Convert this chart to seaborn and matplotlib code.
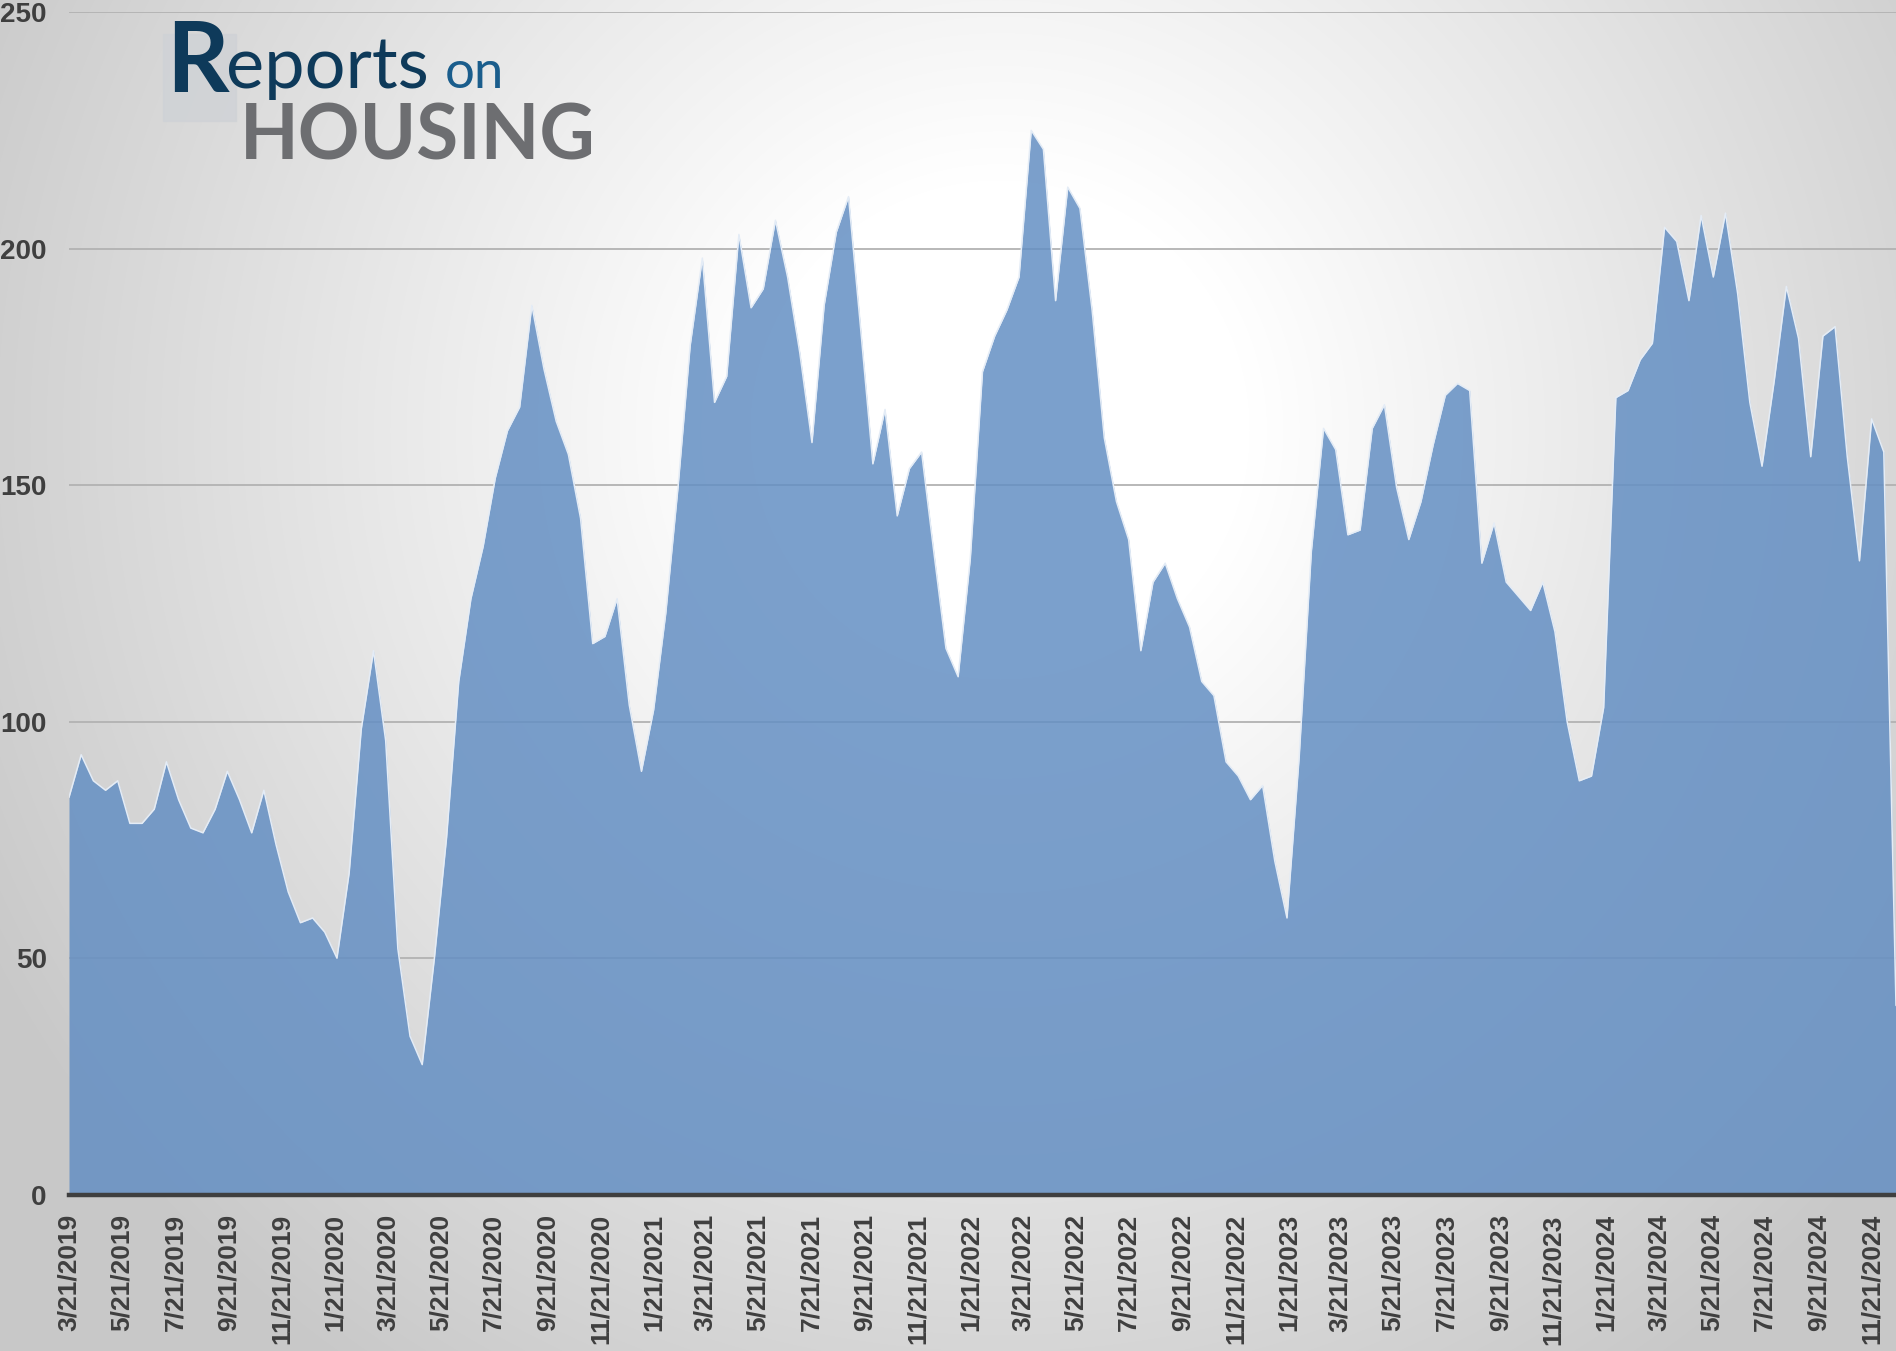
import numpy as np
import pandas as pd
import matplotlib
matplotlib.use("Agg")
import matplotlib.pyplot as plt
import seaborn as sns

# ---------------- data ----------------
start_date = "2019-03-21"
values = [
    84, 93, 87.5, 85.5, 87.5, 78.5, 78.5, 81.5, 91.5, 83.5,
    77.5, 76.5, 81.5, 89.5, 83.5, 76.5, 85.5, 74, 64, 57.5,
    58.5, 55.5, 50, 68, 98.5, 115, 96, 52, 33.5, 27.5,
    50, 75.5, 108.5, 126, 137, 151.5, 161.5, 166.5, 188, 174.5,
    163.5, 156.5, 143, 116.5, 118, 126, 103.5, 89.5, 102.5, 123,
    149.5, 179.5, 198, 167.5, 173, 203, 187.5, 191.5, 206, 194,
    178, 159, 188, 203.5, 211, 183, 154.5, 166, 143.5, 153.5,
    157, 136, 115.5, 109.5, 134.5, 174, 181.5, 187, 194, 225,
    221, 189, 213, 208.5, 187, 160, 146.5, 138.5, 115, 129.5,
    133.5, 126, 120, 108.5, 105.5, 91.5, 88.5, 83.5, 86.5, 70.5,
    58.5, 92.5, 136, 162, 157.5, 139.5, 140.5, 162, 167, 149.5,
    138.5, 146.5, 158.5, 169, 171.5, 170, 133.5, 142, 129.5, 126.5,
    123.5, 129.5, 119, 100, 87.5, 88.5, 103, 168.5, 170, 176.5,
    180, 204.5, 201.5, 189, 207, 194, 207.5, 190.5, 167.5, 154,
    172, 192, 181, 156, 181.5, 183.5, 156, 134, 164, 157,
    40,
]
y_ticks = [0, 50, 100, 150, 200, 250]
tick_start = "2019-03-21"
tick_end = "2024-11-21"

dates = pd.date_range(start_date, periods=len(values), freq="14D")
df = pd.DataFrame({"date": dates, "value": values})
tick_dates = pd.date_range(tick_start, tick_end, freq=pd.DateOffset(months=2))
tick_labels = [f"{d.month}/{d.day}/{d.year}" for d in tick_dates]

# ---------------- style ----------------
sns.set_theme(style="white")
plt.rcParams["font.family"] = ["Liberation Sans", "DejaVu Sans"]

W, H = 1896, 1351
fig = plt.figure(figsize=(W / 100, H / 100), dpi=100)

# radial gradient background
yy, xx = np.mgrid[0:H, 0:W]
cx, cy = 1000, 430
r = np.sqrt((xx - cx) ** 2 + (yy - cy) ** 2)
t = np.clip((r - 250) / (1150 - 250), 0, 1)
g = (255 - 55 * t) / 255.0
img = np.dstack([g, g, g])
bg = fig.add_axes([0, 0, 1, 1])
bg.imshow(img, aspect="auto", extent=[0, 1, 0, 1], origin="upper",
          interpolation="bilinear")
bg.axis("off")
bg.set_zorder(0)

left = 69 / W
bottom = (H - 1194.7) / H
top = (H - 12.1) / H
ax = fig.add_axes([left, bottom, 1 - left, top - bottom])
ax.set_zorder(1)
ax.patch.set_alpha(0)

ax.yaxis.grid(True, color="#b2b2b2", linewidth=1.3)
ax.xaxis.grid(False)
ax.set_axisbelow(True)

ax.fill_between(df["date"], df["value"], 0, color="#648FC3", alpha=0.85,
                linewidth=0, zorder=2)
sns.lineplot(data=df, x="date", y="value", ax=ax, color="#e4ecf6",
             linewidth=1.1, zorder=3, legend=False)

ax.set_xlim(dates[0], dates[-1])
ax.set_ylim(0, 250)
ax.set_xlabel("")
ax.set_ylabel("")

ax.set_yticks(y_ticks)
ax.set_yticklabels([str(v) for v in y_ticks])
ax.set_xticks(tick_dates)
ax.set_xticklabels(tick_labels, rotation=90)

for s in ["left", "top", "right"]:
    ax.spines[s].set_visible(False)
ax.spines["bottom"].set_color("#3f3f3f")
ax.spines["bottom"].set_linewidth(3.2)
ax.spines["bottom"].set_zorder(4)

ax.tick_params(axis="x", direction="out", length=6, width=2, color="#3f3f3f",
               pad=8, labelsize=19, labelcolor="#3f3f3f")
ax.tick_params(axis="y", length=0, pad=16, labelsize=20, labelcolor="#3f3f3f")
for lab in ax.get_xticklabels():
    lab.set_fontweight("bold")
for lab in ax.get_yticklabels():
    lab.set_fontweight("bold")

# ---------------- logo ----------------
def fx(px):
    return px / W

def fy(py):
    return 1 - py / H

sq = plt.Rectangle((fx(163), fy(121)), fx(236) - fx(163), fy(34) - fy(121),
                   transform=fig.transFigure, color="#cfd2d6", alpha=0.8,
                   zorder=5)
fig.patches.append(sq)
fig.text(fx(166), fy(92), "R", fontsize=70, color="#0e3a5a",
         family=["Lato", "DejaVu Sans"], fontweight="bold", va="baseline",
         zorder=6)
fig.text(fx(226), fy(88), "eports", fontsize=52, color="#0e3a5a",
         family=["Lato", "DejaVu Sans"], va="baseline", zorder=6)
fig.text(fx(445), fy(88), "on", fontsize=38, color="#1a5d8c",
         family=["Lato", "DejaVu Sans"], va="baseline", zorder=6)
fig.text(fx(240), fy(160), "HOUSING", fontsize=55, color="#6d6e71",
         family=["Lato", "DejaVu Sans"], fontweight="bold", va="baseline",
         zorder=6)

fig.savefig("out.png", dpi=100)
